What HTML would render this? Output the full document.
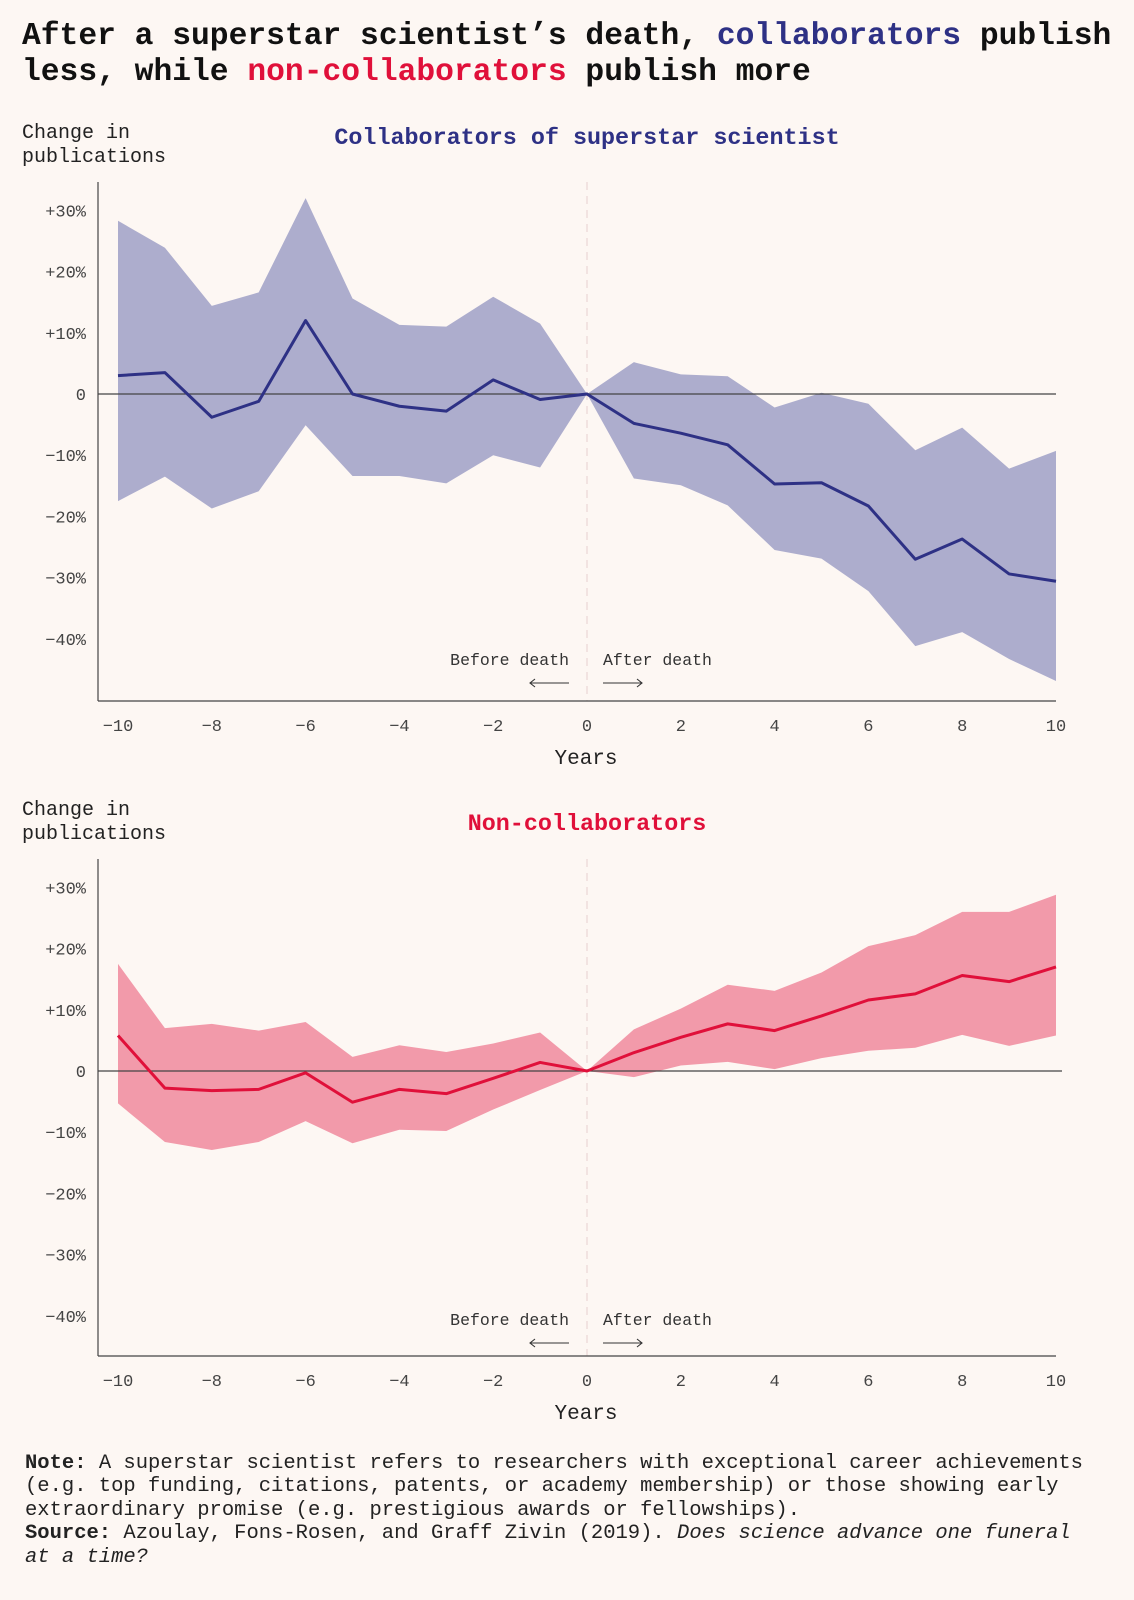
<!DOCTYPE html>
<html><head><meta charset="utf-8">
<style>
body{margin:0;background:#fdf7f3;}
svg{display:block;}
text{font-family:"Liberation Mono","DejaVu Sans Mono",monospace;}
</style></head>
<body>
<svg id="c" width="1134" height="1600" viewBox="0 0 1134 1600" xmlns="http://www.w3.org/2000/svg">
<rect width="1134" height="1600" fill="#fdf7f3"/>
<text x="22" y="44" font-size="31.3" font-weight="bold" fill="#111">After a superstar scientist’s death, <tspan fill="#2e3185">collaborators</tspan> publish</text>
<text x="22" y="80" font-size="31.3" font-weight="bold" fill="#111">less, while <tspan fill="#e0103a">non-collaborators</tspan> publish more</text>
<g id="p1"></g>
<g id="p2"></g>
<g font-size="20.5" fill="#222">
<text x="25" y="1468"><tspan font-weight="bold">Note:</tspan> A superstar scientist refers to researchers with exceptional career achievements</text>
<text x="25" y="1491">(e.g. top funding, citations, patents, or academy membership) or those showing early</text>
<text x="25" y="1515">extraordinary promise (e.g. prestigious awards or fellowships).</text>
<text x="25" y="1538"><tspan font-weight="bold">Source:</tspan> Azoulay, Fons-Rosen, and Graff Zivin (2019). <tspan font-style="italic">Does science advance one funeral</tspan></text>
<text x="25" y="1562" font-style="italic">at a time?</text>
</g>
</svg>
<script>
const years=[-10,-9,-8,-7,-6,-5,-4,-3,-2,-1,0,1,2,3,4,5,6,7,8,9,10];
const yTicks=[30,20,10,0,-10,-20,-30,-40];
const xTicks=[-10,-8,-6,-4,-2,0,2,4,6,8,10];
const collabMean=[3,3.5,-3.8,-1.2,12,0,-2,-2.8,2.3,-0.9,0,-4.8,-6.4,-8.3,-14.7,-14.5,-18.3,-27,-23.7,-29.4,-30.6];
const collabUpper=[28.3,23.9,14.4,16.6,32,15.6,11.3,11,15.9,11.5,0,5.2,3.2,2.9,-2.2,0.2,-1.6,-9.2,-5.5,-12.2,-9.3];
const collabLower=[-17.5,-13.5,-18.7,-15.9,-5.1,-13.4,-13.4,-14.6,-10,-12,0,-13.8,-14.9,-18.2,-25.5,-26.9,-32.2,-41.2,-38.9,-43.3,-46.9];
const nonMean=[5.8,-2.8,-3.2,-3,-0.3,-5.1,-3,-3.7,-1.2,1.4,0,3,5.5,7.7,6.6,9,11.6,12.6,15.6,14.6,17];
const nonUpper=[17.5,7,7.7,6.6,8,2.3,4.2,3.1,4.5,6.3,0,6.8,10.2,14.1,13.1,16.1,20.4,22.2,26,26,28.8];
const nonLower=[-5.3,-11.6,-12.9,-11.6,-8.2,-11.8,-9.6,-9.8,-6.3,-3.1,0,-1,0.9,1.5,0.3,2.1,3.3,3.8,5.9,4.1,5.8];

const NS="http://www.w3.org/2000/svg";
function mk(parent,tag,attrs,txt){const e=document.createElementNS(NS,tag);for(const k in attrs)e.setAttribute(k,attrs[k]);if(txt!==undefined)e.textContent=txt;parent.appendChild(e);return e;}

function panel(g,cfg){
  const x=v=>118+(v+10)*(1056-118)/20;
  const y=v=>cfg.zero-v*6.12;
  let t;
  t=mk(g,'text',{x:22,y:cfg.top-44,'font-size':20,fill:'#222'},'Change in');
  
  t=mk(g,'text',{x:22,y:cfg.top-20,'font-size':20,fill:'#222'},'publications');
  
  t=mk(g,'text',{x:587,y:cfg.titleY,'font-size':23.4,'text-anchor':'middle',fill:cfg.color,'font-weight':'bold'},cfg.title);
  
  t=mk(g,'line',{x1:x(0),x2:x(0),y1:cfg.top,y2:cfg.bottom,stroke:'#e8cfcf','stroke-dasharray':'8 6','stroke-width':1});
  
  let d='';years.forEach((yr,i)=>{d+=(i?'L':'M')+x(yr)+','+y(cfg.upper[i]);});
  for(let i=years.length-1;i>=0;i--)d+='L'+x(years[i])+','+y(cfg.lower[i]);
  t=mk(g,'path',{d:d+'Z',fill:cfg.band});
  
  t=mk(g,'line',{x1:98,x2:cfg.zeroEnd,y1:y(0),y2:y(0),stroke:'#444','stroke-width':1.2});
  
  let m='';years.forEach((yr,i)=>{m+=(i?'L':'M')+x(yr)+','+y(cfg.mean[i]);});
  t=mk(g,'path',{d:m,fill:'none',stroke:cfg.color,'stroke-width':3,'stroke-linejoin':'round'});
  
  t=mk(g,'line',{x1:98,x2:98,y1:cfg.top,y2:cfg.bottom,stroke:'#444','stroke-width':1.2});
  
  t=mk(g,'line',{x1:98,x2:1056,y1:cfg.bottom,y2:cfg.bottom,stroke:'#444','stroke-width':1.2});
  
  yTicks.forEach(v=>{
    const lab=v>0?'+'+v+'%':(v===0?'0':'−'+(-v)+'%');
    t=mk(g,'text',{x:86,y:y(v)+6,'font-size':17,'text-anchor':'end',fill:'#444'},lab);
    
  });
  xTicks.forEach(v=>{
    t=mk(g,'text',{x:x(v),y:cfg.bottom+30,'font-size':17,'text-anchor':'middle',fill:'#444'},v<0?'−'+(-v):String(v));
    
  });
  t=mk(g,'text',{x:586,y:cfg.bottom+63,'font-size':21,'text-anchor':'middle',fill:'#222'},'Years');
  
  t=mk(g,'text',{x:569,y:cfg.annY,'font-size':16.5,'text-anchor':'end',fill:'#333'},'Before death');
  
  t=mk(g,'text',{x:603,y:cfg.annY,'font-size':16.5,fill:'#333'},'After death');
  
  const ay=cfg.annY+18;
  t=mk(g,'path',{d:`M569,${ay}H530M535,${ay-4}L530,${ay}L535,${ay+4}`,fill:'none',stroke:'#333','stroke-width':1.1});
  
  t=mk(g,'path',{d:`M603,${ay}H642M637,${ay-4}L642,${ay}L637,${ay+4}`,fill:'none',stroke:'#333','stroke-width':1.1});
  
}
panel(document.getElementById('p1'),{zero:394,top:182,bottom:701,zeroEnd:1056,titleY:144,annY:665,color:'#2e3185',band:'#adadcd',title:'Collaborators of superstar scientist',mean:collabMean,upper:collabUpper,lower:collabLower});
panel(document.getElementById('p2'),{zero:1071,top:859,bottom:1356,zeroEnd:1062,titleY:830,annY:1325,color:'#e0103a',band:'#f29aaa',title:'Non-collaborators',mean:nonMean,upper:nonUpper,lower:nonLower});
</script>
</body></html>
